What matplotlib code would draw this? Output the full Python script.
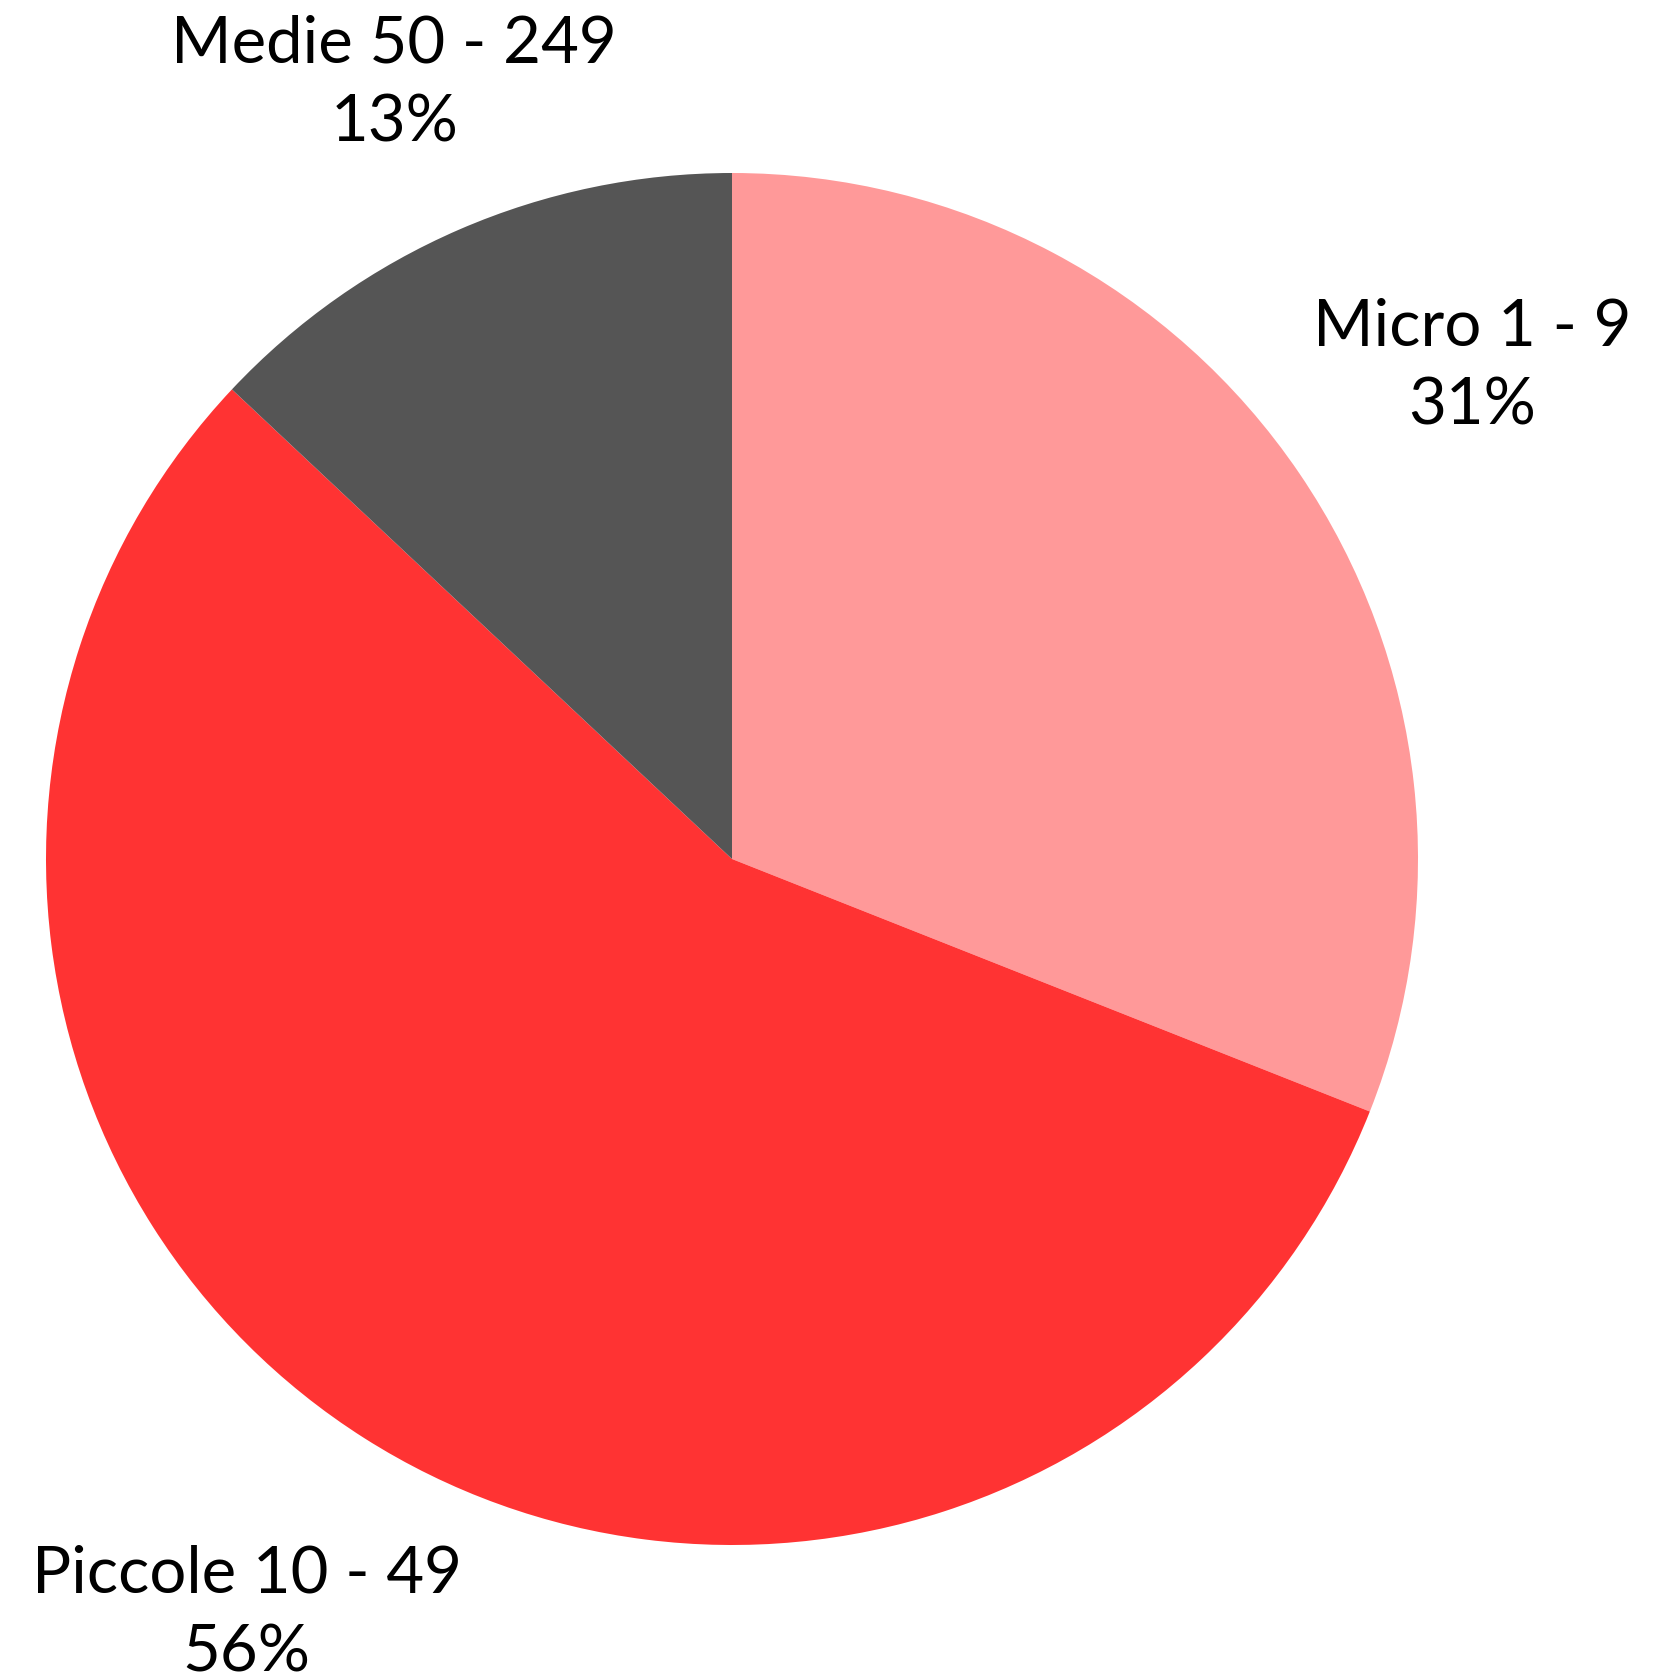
import matplotlib as mpl
mpl.use('Agg')
import matplotlib.pyplot as plt
import numpy as np

# data
labels = ['Micro 1 - 9', 'Piccole 10 - 49', 'Medie 50 - 249']
shares = [31, 56, 13]
colors = ['#FF9999', '#FF3333', '#555555']
label_dist = [1.31, 1.32, 1.24]
label_nudge = [(-3, -13), (0, 10), (0, -5)]  # small pixel tweaks

W, H = 1664, 1676
plt.rc('font', family=['Lato', 'DejaVu Sans'])

fig = plt.figure(figsize=(W / 100, H / 100), dpi=100)
ax = fig.add_axes([0, 0, 1, 1])

cx, cy, R = 732, H - 859, 686
wedges, _ = ax.pie(shares, colors=colors, startangle=90, counterclock=False,
                   center=(cx, cy), radius=R, frame=True)
ax.set_xlim(0, W)
ax.set_ylim(0, H)
ax.set_aspect('equal')
ax.axis('off')

for w, lab, s, d, nd in zip(wedges, labels, shares, label_dist, label_nudge):
    ang = np.deg2rad((w.theta1 + w.theta2) / 2)
    x = cx + d * R * np.cos(ang) + nd[0]
    y = cy + d * R * np.sin(ang) + nd[1]
    ax.text(x, y, '%s\n%d%%' % (lab, s), ha='center', va='center',
            fontsize=47, linespacing=1.42, color='black')

fig.savefig('out.png', dpi=100)
